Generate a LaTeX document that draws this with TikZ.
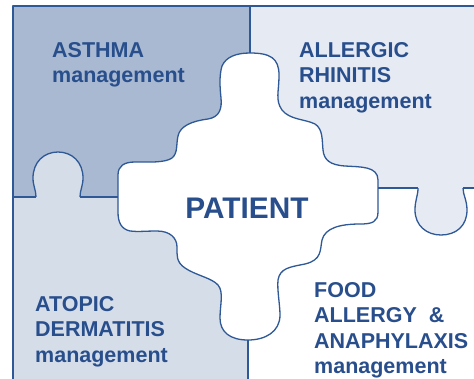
\documentclass[tikz,border=0pt]{standalone}
\usepackage{fontspec}
\setmainfont{Liberation Sans}
\usetikzlibrary{positioning}

\definecolor{pieceline}{RGB}{46,88,150}
\definecolor{piecetext}{RGB}{40,78,140}
\definecolor{asthmafill}{RGB}{169,185,209}
\definecolor{atopicfill}{RGB}{213,221,233}
\definecolor{rhinitisfill}{RGB}{230,234,243}

\begin{document}
\begin{tikzpicture}[x=1pt,y=-1pt]
 \tikzset{piece line/.style={draw=pieceline, line width=1.3pt,
 		line join=round}, }
 \tikzset{label node/.style={text=piecetext, align=left,
 		font=\fontsize{21.5}{25.5}\selectfont\bfseries,
 		anchor=base west, inner sep=0pt}, }
 \tikzset{patient node/.style={text=piecetext,
 		font=\fontsize{29.8}{34}\selectfont\bfseries,
 		anchor=base, inner sep=0pt}, }
 \useasboundingbox (0,0) rectangle (474,378);
 \clip (0,0) rectangle (474,378);
 %% the four outer pieces
 \fill[asthmafill] (13,6) rectangle (250,197);
 \fill[rhinitisfill] (250,6) rectangle (490,188);
 \fill[atopicfill] (13,197) rectangle (248,390);
 %% tabs poking into the next piece
 \filldraw[piece line, fill=atopicfill] (36,197)
 	.. controls (36,190) and (33,186) .. (33,178)
 	.. controls (33,162) and (44,152) .. (58,152)
 	.. controls (72,152) and (83,162) .. (83,178)
 	.. controls (83,186) and (80,190) .. (80,197);
 \filldraw[piece line, fill=rhinitisfill] (418,188)
 	.. controls (418,196) and (415,200) .. (415,210)
 	.. controls (415,226) and (427,235) .. (441,235)
 	.. controls (456,235) and (467,226) .. (467,210)
 	.. controls (467,200) and (463,195) .. (463,188);
 %% centre piece
 \filldraw[piece line, fill=white] (250,53)
 	.. controls (270,53) and (279,58) .. (279,75)
 	.. controls (279,92) and (275,100) .. (282,110)
 	.. controls (290,120) and (305,119) .. (315,124)
 	.. controls (323,129) and (322,140) .. (323,150)
 	.. controls (324,160) and (330,165) .. (345,166)
 	.. controls (360,167) and (378,166) .. (378,180)
 	-- (378,212)
 	.. controls (378,222) and (372,224) .. (360,224)
 	.. controls (340,224) and (325,228) .. (322,240)
 	.. controls (320,250) and (322,260) .. (305,264)
 	.. controls (290,267) and (280,268) .. (278,280)
 	.. controls (277,290) and (280,305) .. (280,315)
 	.. controls (280,332) and (265,340) .. (248,340)
 	.. controls (230,340) and (220,332) .. (220,318)
 	.. controls (220,305) and (224,292) .. (218,285)
 	.. controls (212,278) and (195,275) .. (185,268)
 	.. controls (176,262) and (177,255) .. (177,247)
 	.. controls (177,238) and (170,231) .. (157,231)
 	.. controls (145,231) and (138,232) .. (130,231)
 	.. controls (121,229) and (118,222) .. (118,212)
 	-- (118,175)
 	.. controls (118,166) and (124,162) .. (135,162)
 	.. controls (148,162) and (165,163) .. (172,158)
 	.. controls (178,153) and (176,145) .. (178,136)
 	.. controls (180,126) and (192,121) .. (208,119)
 	.. controls (220,117) and (222,108) .. (221,98)
 	.. controls (220,88) and (219,76) .. (222,66)
 	.. controls (226,57) and (236,53) .. (250,53) -- cycle;
 %% seams between the outer pieces
 \draw[piece line] (250,6) -- (250,53);
 \draw[piece line] (13,197) -- (36,197) (80,197) -- (118,197);
 \draw[piece line] (378,188) -- (418,188) (463,188) -- (490,188);
 \draw[piece line] (248,340) -- (248,390);
 %% outer frame
 \draw[piece line] (13,390) -- (13,6) -- (490,6);
 %% labels (placed by the baseline of their last line)
 \node[label node] (1) at (52,82.5) {ASTHMA\\management};
 \node[label node] (2) at (299,108) {ALLERGIC\\RHINITIS\\management};
 \node[label node] (3) at (35,362) {ATOPIC\\DERMATITIS\\management};
 \node[label node] (4) at (314,373.5) {FOOD\\ALLERGY~~\&\\ANAPHYLAXIS\\management};
 \node[patient node] (5) at (247,218) {PATIENT};
\end{tikzpicture}
\end{document}
